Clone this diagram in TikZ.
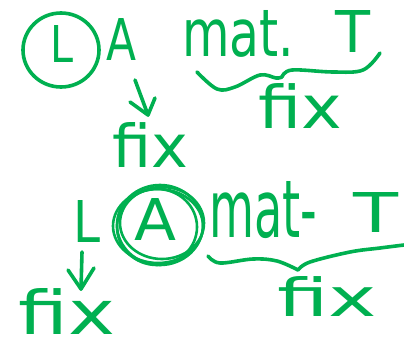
\documentclass[tikz,border=0pt]{standalone}
\usepackage{fontspec}
\setmainfont{DejaVu Sans}
\usepackage{graphicx}
\definecolor{ink}{RGB}{0,176,80}
\newcommand\handw[3]{\resizebox{#1pt}{#2pt}{#3}}
\begin{document}
\begin{tikzpicture}[x=1pt,y=-1pt,
  hand/.style={draw=ink, line width=3.6pt, line cap=round, line join=round},
  ring/.style={draw=ink, line width=2.6pt},
  word/.style={inner sep=0pt, anchor=base west, text=ink}]
\useasboundingbox[fill=white] (0,0) rectangle (404,343);
% ---------- top row ----------
\node[word] (L1) at (50,62) {\handw{23}{37}{L}};
\draw[hand] (61,50) ellipse [x radius=38, y radius=37];
\node[word] (A1) at (106,60) {\handw{30}{42}{A}};
\node[word] (mat1) at (182,56) {\handw{112}{46}{mat.}};
\node[word] (T1) at (335,52) {\handw{35}{42}{T}};
\draw[hand] plot[smooth, tension=0.6] coordinates {(197,72) (217,89) (235,87) (260,75) (276,78) (282,77)};
\draw[hand] plot[smooth, tension=0.6] coordinates {(282,77) (292,70) (333,72) (363,70) (380,53)};
\node[word] (fix1) at (258,128) {\handw{84}{45}{fix}};
\coordinate (a1s) at (135,80);
\coordinate (a1e) at (148,115);
\draw[hand] (a1s) -- (a1e);
\draw[hand] (130,102) -- (a1e) -- (155,98);
\node[word] (fix2) at (112,167) {\handw{76}{45}{fix}};
% ---------- bottom row ----------
\node[word] (L2) at (73,242) {\handw{27}{42}{L}};
\coordinate (a2s) at (82,252);
\coordinate (a2e) at (81,289);
\draw[hand] (a2s) -- (a2e);
\draw[hand] (68,270) -- (a2e) -- (94,268);
\node[word] (fix3) at (18,334) {\handw{97}{46}{fix}};
\node[word] (A2) at (134,240) {\handw{42}{42}{A}};
\draw[ring] (160,225) ellipse [x radius=43, y radius=40];
\draw[ring] (157,227) ellipse [x radius=40, y radius=38];
\draw[ring] (162,223) ellipse [x radius=42, y radius=36];
\draw[ring] (158,226) ellipse [x radius=45, y radius=37];
\node[word] (mat2) at (209,237) {\handw{108}{56}{mat-}};
\node[word] (T2) at (353,232) {\handw{45}{40}{T}};
\draw[hand] plot[smooth, tension=0.6] coordinates {(208,256) (220,263) (253,259) (277,261) (298,270)};
\draw[hand] plot[smooth, tension=0.6] coordinates {(298,270) (310,262) (350,252) (380,248) (404,245)};
\node[word] (fix4) at (277,316) {\handw{100}{40}{fix}};
\end{tikzpicture}
\end{document}
